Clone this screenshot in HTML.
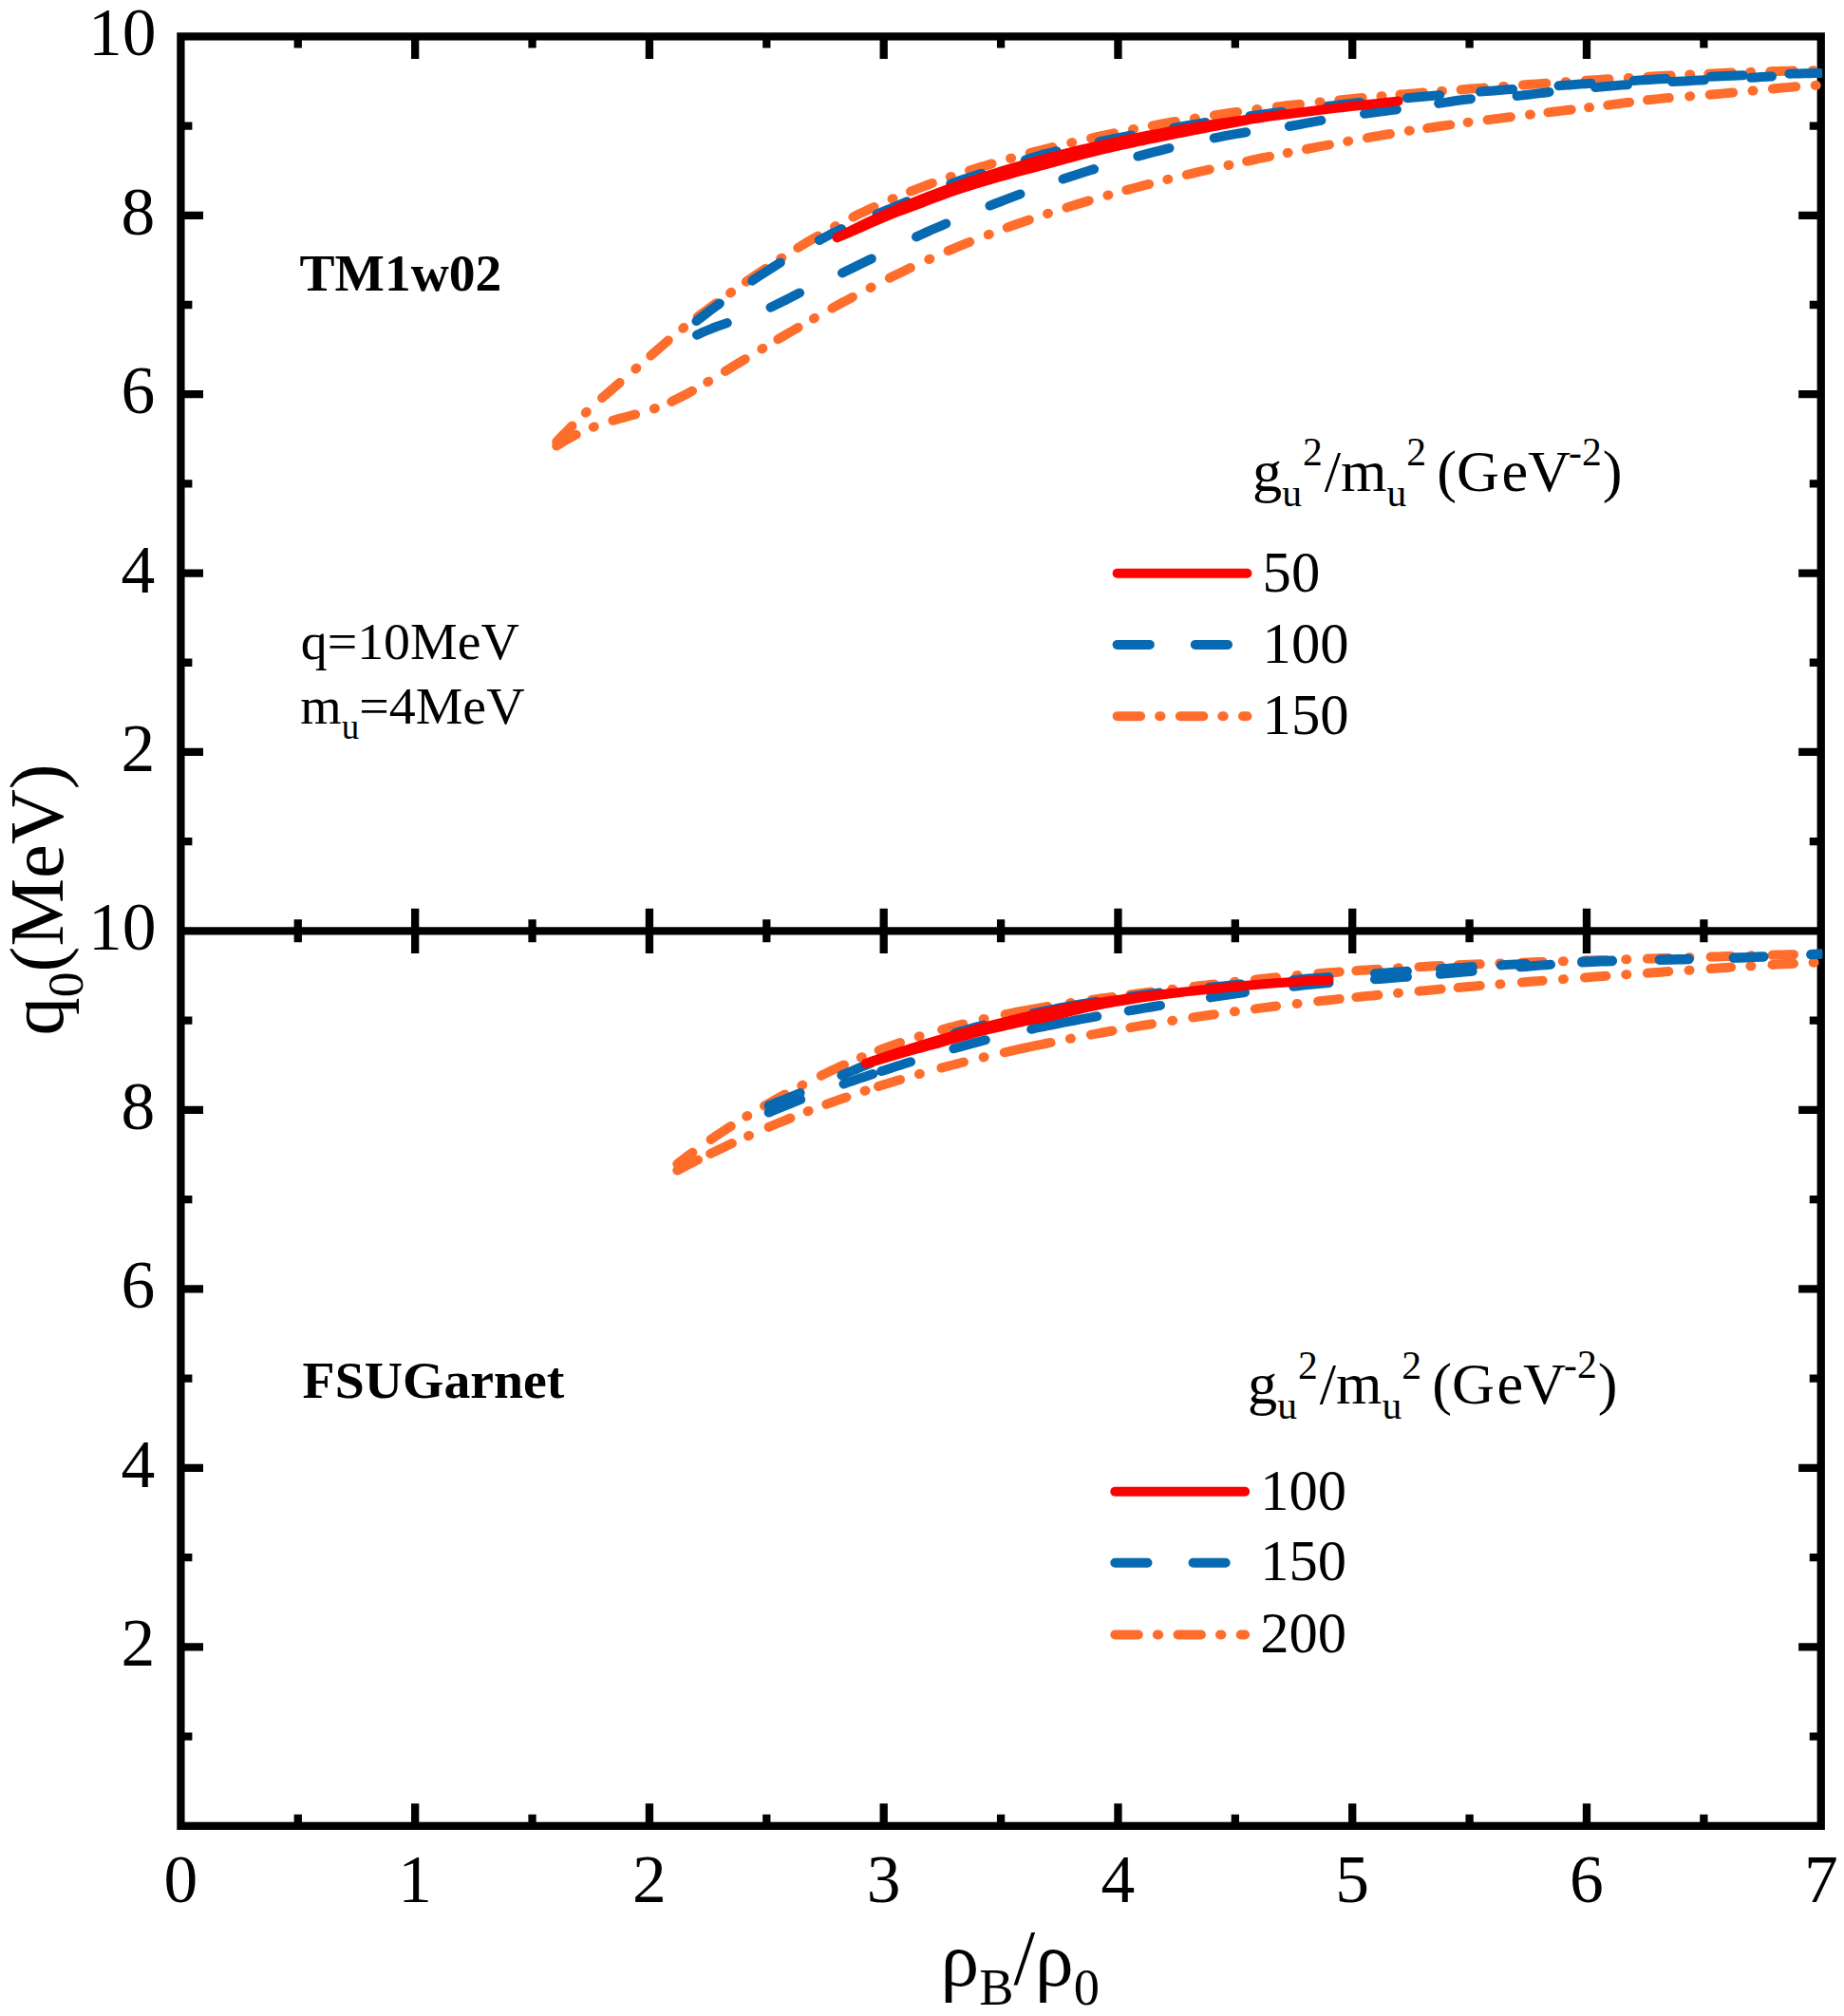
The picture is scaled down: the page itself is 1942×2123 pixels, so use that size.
<!DOCTYPE html>
<html><head><meta charset="utf-8"><title>q0 vs rhoB/rho0</title>
<style>html,body{margin:0;padding:0;background:#fff}svg{display:block}</style></head>
<body>
<svg width="1942" height="2123" viewBox="0 0 1942 2123">
<rect width="1942" height="2123" fill="#fff"/>
<g stroke="#000" stroke-width="8.3" fill="none" stroke-linecap="butt">
<rect x="190.4" y="38.4" width="1727.35" height="1884.4499999999998"/>
<line x1="190.4" y1="980.35" x2="1917.75" y2="980.35"/>
<path d="M313.78 38.4v12.0M313.78 968.35v24.0M313.78 1922.85v-12.0M437.16 38.4v23.6M437.16 956.75v47.2M437.16 1922.85v-23.6M560.55 38.4v12.0M560.55 968.35v24.0M560.55 1922.85v-12.0M683.93 38.4v23.6M683.93 956.75v47.2M683.93 1922.85v-23.6M807.31 38.4v12.0M807.31 968.35v24.0M807.31 1922.85v-12.0M930.69 38.4v23.6M930.69 956.75v47.2M930.69 1922.85v-23.6M1054.08 38.4v12.0M1054.08 968.35v24.0M1054.08 1922.85v-12.0M1177.46 38.4v23.6M1177.46 956.75v47.2M1177.46 1922.85v-23.6M1300.84 38.4v12.0M1300.84 968.35v24.0M1300.84 1922.85v-12.0M1424.22 38.4v23.6M1424.22 956.75v47.2M1424.22 1922.85v-23.6M1547.60 38.4v12.0M1547.60 968.35v24.0M1547.60 1922.85v-12.0M1670.99 38.4v23.6M1670.99 956.75v47.2M1670.99 1922.85v-23.6M1794.37 38.4v12.0M1794.37 968.35v24.0M1794.37 1922.85v-12.0M190.4 886.15h12.0M1917.75 886.15h-12.0M190.4 791.96h23.6M1917.75 791.96h-23.6M190.4 697.76h12.0M1917.75 697.76h-12.0M190.4 603.57h23.6M1917.75 603.57h-23.6M190.4 509.38h12.0M1917.75 509.38h-12.0M190.4 415.18h23.6M1917.75 415.18h-23.6M190.4 320.99h12.0M1917.75 320.99h-12.0M190.4 226.79h23.6M1917.75 226.79h-23.6M190.4 132.59h12.0M1917.75 132.59h-12.0M190.4 1828.60h12.0M1917.75 1828.60h-12.0M190.4 1734.35h23.6M1917.75 1734.35h-23.6M190.4 1640.10h12.0M1917.75 1640.10h-12.0M190.4 1545.85h23.6M1917.75 1545.85h-23.6M190.4 1451.60h12.0M1917.75 1451.60h-12.0M190.4 1357.35h23.6M1917.75 1357.35h-23.6M190.4 1263.10h12.0M1917.75 1263.10h-12.0M190.4 1168.85h23.6M1917.75 1168.85h-23.6M190.4 1074.60h12.0M1917.75 1074.60h-12.0"/>
</g>
<g font-family="'Liberation Serif', serif" font-size="71.5" fill="#000">
<text x="190.40" y="2003.2" text-anchor="middle">0</text>
<text x="437.16" y="2003.2" text-anchor="middle">1</text>
<text x="683.93" y="2003.2" text-anchor="middle">2</text>
<text x="930.69" y="2003.2" text-anchor="middle">3</text>
<text x="1177.46" y="2003.2" text-anchor="middle">4</text>
<text x="1424.22" y="2003.2" text-anchor="middle">5</text>
<text x="1670.99" y="2003.2" text-anchor="middle">6</text>
<text x="1917.75" y="2003.2" text-anchor="middle">7</text>
<text x="163.2" y="811.96" text-anchor="end">2</text>
<text x="163.2" y="623.57" text-anchor="end">4</text>
<text x="163.2" y="435.18" text-anchor="end">6</text>
<text x="163.2" y="246.79" text-anchor="end">8</text>
<text x="164.6" y="58.40" text-anchor="end">10</text>
<text x="163.2" y="1754.35" text-anchor="end">2</text>
<text x="163.2" y="1565.85" text-anchor="end">4</text>
<text x="163.2" y="1377.35" text-anchor="end">6</text>
<text x="163.2" y="1188.85" text-anchor="end">8</text>
<text x="164.6" y="1000.35" text-anchor="end">10</text>
</g>
<g font-family="'Liberation Serif', serif" font-size="80.5" fill="#000">
<text transform="translate(65.5 1090.5) rotate(-90)">q<tspan font-size="53.7" dy="21">0</tspan><tspan dy="-21">(MeV)</tspan></text>
<text x="990.5" y="2091" font-size="81.5">ρ<tspan font-size="54.4" dy="19.5">B</tspan><tspan dy="-21.7">/</tspan><tspan dy="2.2">ρ</tspan><tspan font-size="54.4" dy="19.5">0</tspan></text>
</g>
<g font-family="'Liberation Serif', serif" fill="#000">
<text x="315.6" y="306.3" font-size="55.5" font-weight="bold">TM1w02</text>
<text x="318.6" y="1471.6" font-size="55.8" font-weight="bold">FSUGarnet</text>
<text x="316.7" y="693.8" font-size="55.9">q=10MeV</text>
<text x="316.2" y="762.1" font-size="55.9">m<tspan font-size="37" dy="15.5">u</tspan><tspan dy="-15.5">=4MeV</tspan></text>
</g>
<g font-family="'Liberation Serif', serif" font-size="62.3" fill="#000">
<text x="1319.0" y="517.0">g<tspan font-size="41.6" dy="16">u</tspan><tspan font-size="41.6" dy="-42.6" dx="1">2</tspan><tspan dy="26.6" dx="2">/m</tspan><tspan font-size="41.6" dy="16">u</tspan><tspan font-size="41.6" dy="-42.6">2</tspan><tspan dy="26.6" dx="-4.5"> (G</tspan><tspan dx="2.5">eV</tspan><tspan font-size="41.6" dy="-26.8" dx="-2">-2</tspan><tspan dy="26.8" dx="1">)</tspan></text>
<text x="1329.6" y="622.9" font-size="60.6">50</text>
<text x="1329.6" y="697.8" font-size="60.6">100</text>
<text x="1329.6" y="772.6" font-size="60.6">150</text>
</g>
<g fill="none" stroke-width="10" stroke-linecap="round">
<path d="M1176.6 603.7H1313.3999999999999" stroke="#fd0000"/>
<path d="M1176.6 678.9H1313.3999999999999" stroke="#0769b1" stroke-dasharray="34.2 48"/>
<path d="M1176.6 754.2H1313.3999999999999" stroke="#ff6d2c" stroke-dasharray="24.5 20 1.4 20.3"/>
</g>
<g font-family="'Liberation Serif', serif" font-size="62.3" fill="#000">
<text x="1314.0" y="1478.1">g<tspan font-size="41.6" dy="16">u</tspan><tspan font-size="41.6" dy="-42.6" dx="1">2</tspan><tspan dy="26.6" dx="2">/m</tspan><tspan font-size="41.6" dy="16">u</tspan><tspan font-size="41.6" dy="-42.6">2</tspan><tspan dy="26.6" dx="-4.5"> (G</tspan><tspan dx="2.5">eV</tspan><tspan font-size="41.6" dy="-26.8" dx="-2">-2</tspan><tspan dy="26.8" dx="1">)</tspan></text>
<text x="1327.2" y="1589.5" font-size="60.6">100</text>
<text x="1327.2" y="1664.4" font-size="60.6">150</text>
<text x="1327.2" y="1740.2" font-size="60.6">200</text>
</g>
<g fill="none" stroke-width="10" stroke-linecap="round">
<path d="M1174.3 1570.8H1311.1" stroke="#fd0000"/>
<path d="M1174.3 1645.7H1311.1" stroke="#0769b1" stroke-dasharray="34.2 48"/>
<path d="M1174.3 1721.5H1311.1" stroke="#ff6d2c" stroke-dasharray="24.5 20 1.4 20.3"/>
</g>
<clipPath id="pc"><rect x="190.4" y="38.4" width="1728.85" height="1884.4499999999998"/></clipPath>
<g clip-path="url(#pc)">
<g fill="none" stroke-width="10.0" stroke-linecap="round" stroke-linejoin="round">
<path stroke="#ff6d2c" d="M616.8 434.7l1 -0.93M669.3 388.5l1 -0.87M719.2 345.8l1 -0.80M769.1 308.5l1 -0.71M822.2 272.3l1 -0.64M879.0 238.6l1 -0.54M939.5 209.6l1 -0.43M1000.8 186.3l1 -0.34M1064.1 166.8l1 -0.28M1128.2 150.3l1 -0.24M1193.0 136.2l1 -0.20M1257.9 124.6l1 -0.16M1323.2 115.2l1 -0.13M1389.6 107.5l1 -0.10M1454.5 101.3l1 -0.09M1517.9 96.0l1 -0.08M1582.8 91.0l1 -0.08M1648.5 86.3l1 -0.07M1714.8 82.0l1 -0.06M1779.2 78.6l1 -0.05M1843.1 75.9l1 -0.03M1908.9 74.2l1 -0.02M634.1 419.0L638.8 415.0L643.4 410.9L648.0 406.9L652.6 402.9M685.3 374.5L689.9 370.5L694.6 366.5L699.2 362.5L703.8 358.5M734.6 333.8L739.5 330.1L744.5 326.4L749.4 322.8L754.3 319.2M785.8 296.7L790.9 293.2L796.0 289.7L801.0 286.3L806.1 282.9M840.3 261.0L845.6 257.8L850.8 254.6L856.1 251.5L861.4 248.5M898.4 228.6L903.9 225.8L909.5 223.2L915.0 220.6L920.5 218.0M959.0 201.6L964.7 199.3L970.5 197.1L976.2 195.0L981.9 192.9M1021.1 179.6L1027.0 177.7L1032.8 175.9L1038.7 174.2L1044.5 172.4M1084.7 161.2L1090.6 159.6L1096.6 158.1L1102.5 156.6L1108.4 155.1M1149.1 145.5L1155.1 144.1L1161.0 142.8L1167.0 141.6L1173.0 140.3M1213.8 132.3L1218.7 131.4L1223.5 130.5L1228.3 129.6L1233.1 128.8L1238.0 128.0M1278.9 121.4L1283.7 120.6L1288.6 119.9L1293.4 119.2L1298.3 118.5L1303.1 117.9M1344.7 112.5L1349.6 111.9L1354.4 111.3L1359.3 110.8L1364.2 110.2L1369.0 109.7M1410.3 105.4L1415.2 104.9L1420.1 104.4L1425.0 104.0L1429.9 103.5L1434.7 103.1M1474.5 99.6L1479.4 99.2L1484.3 98.8L1489.1 98.4L1494.0 98.0L1498.9 97.6M1538.6 94.4L1543.5 94.0L1548.4 93.6L1553.3 93.2L1558.2 92.9L1563.1 92.5M1603.9 89.4L1608.8 89.1L1613.7 88.7L1618.6 88.4L1623.5 88.0L1628.4 87.7M1669.9 84.8L1674.8 84.5L1679.7 84.2L1684.6 83.9L1689.5 83.6L1694.4 83.3M1735.3 80.9L1740.2 80.6L1745.0 80.3L1749.9 80.1L1754.8 79.8L1759.7 79.6M1799.4 77.7L1804.3 77.4L1809.2 77.2L1814.1 77.0L1819.0 76.8L1823.9 76.6M1864.3 75.3L1869.1 75.1L1874.0 75.0L1878.9 74.8L1883.8 74.7L1888.7 74.6M586.2 465.2L591.6 459.5L597.1 453.9L602.5 448.4"/>
<path stroke="#ff6d2c" d="M624.8 449.8l1 -0.38M688.8 430.4l1 -0.36M745.2 402.3l1 -0.60M802.3 367.5l1 -0.60M856.9 335.5l1 -0.57M916.6 303.1l1 -0.52M978.3 273.1l1 -0.45M1040.8 247.1l1 -0.38M1103.0 225.0l1 -0.33M1166.4 205.7l1 -0.28M1229.3 189.0l1 -0.25M1293.5 174.0l1 -0.22M1355.7 161.0l1 -0.20M1419.2 148.8l1 -0.18M1483.8 137.8l1 -0.16M1545.6 128.9l1 -0.13M1611.0 120.7l1 -0.12M1673.1 113.2l1 -0.12M1779.2 101.4l1 -0.08M1845.5 95.6l1 -0.10M1911.7 89.9l1 -0.05M645.4 442.8L651.3 441.2L657.2 439.6L663.1 438.0L669.0 436.4M707.2 422.9L712.6 420.3L718.1 417.5L723.5 414.7L729.0 411.7M763.8 391.0L769.0 387.8L774.2 384.6L779.5 381.4L784.7 378.2M819.4 357.3L824.7 354.1L830.0 351.0L835.3 348.0L840.6 344.9M876.4 324.6L881.7 321.7L887.1 318.7L892.5 315.8L897.9 312.9M936.8 292.8L942.3 290.1L947.8 287.4L953.3 284.8L958.8 282.1M998.6 264.2L1004.2 261.8L1009.9 259.4L1015.5 257.1L1021.2 254.8M1060.7 239.6L1066.5 237.5L1072.3 235.5L1078.1 233.5L1083.8 231.5M1123.4 218.5L1129.3 216.7L1135.1 214.9L1141.0 213.1L1146.8 211.4M1186.4 200.1L1192.4 198.5L1198.3 197.0L1204.2 195.4L1210.1 193.9M1249.9 184.0L1255.9 182.6L1261.9 181.2L1267.8 179.8L1273.8 178.4M1313.1 169.8L1319.1 168.5L1325.1 167.2L1331.1 166.0L1337.1 164.8M1375.9 157.0L1380.7 156.0L1385.5 155.1L1390.3 154.2L1395.1 153.3L1400.0 152.4M1439.9 145.1L1444.7 144.3L1449.6 143.4L1454.4 142.6L1459.2 141.8L1464.0 141.0M1503.1 134.9L1507.9 134.2L1512.8 133.5L1517.6 132.8L1522.5 132.1L1527.3 131.4M1566.6 126.2L1571.5 125.6L1576.4 125.0L1581.2 124.4L1586.1 123.8L1590.9 123.2M1630.4 118.4L1635.3 117.8L1640.1 117.2L1645.0 116.6L1649.8 116.0L1654.7 115.5M1800.7 99.7L1805.5 99.3L1810.4 98.9L1815.3 98.4L1820.2 98.0L1825.1 97.5M1866.9 93.5L1871.8 93.0L1876.6 92.6L1881.5 92.1L1886.4 91.7L1891.3 91.3M586.2 469.6L591.3 466.3L596.5 463.2L601.6 460.4L606.7 457.7M1693.3 110.7L1699.0 109.9L1704.7 109.2L1710.4 108.4L1716.1 107.7M1735.0 105.3L1740.7 104.7L1746.4 104.1L1752.1 103.5L1757.8 103.1"/>
<path stroke="#0769b1" d="M733.5 338.1L738.4 334.3L743.3 330.5L748.1 326.8L753.0 323.2L757.9 319.6M792.2 295.7L798.1 291.7L804.0 287.8L810.0 284.0L815.9 280.3L821.8 276.6M862.8 253.0L868.7 249.9L874.5 246.8L880.4 243.9L886.3 241.1M923.5 225.5L928.8 223.3L934.0 221.2L939.3 219.0L944.5 216.8L949.8 214.5L955.0 212.2M1001.2 193.6L1006.6 191.7L1012.0 189.8L1017.4 188.0L1022.8 186.2L1028.2 184.4L1033.6 182.7M1079.8 168.4L1085.3 166.6L1090.8 165.0L1096.3 163.4L1101.8 161.9L1107.3 160.5L1112.7 159.2M1157.8 149.1L1163.4 148.0L1169.0 146.9L1174.6 145.7L1180.2 144.7L1185.8 143.6L1191.4 142.5M1236.0 134.6L1241.6 133.6L1247.2 132.7L1252.9 131.8L1258.5 130.8L1264.1 129.9L1269.7 129.0M1316.2 122.2L1321.9 121.4L1327.5 120.6L1333.2 119.9L1338.8 119.2L1344.5 118.4L1350.1 117.7M1398.5 111.7L1404.2 111.1L1409.8 110.4L1415.5 109.8L1421.2 109.1L1426.8 108.5L1432.5 107.9M1482.0 103.2L1487.7 102.7L1493.4 102.2L1499.0 101.7L1504.7 101.2L1510.4 100.7L1516.1 100.2M1559.0 96.6L1564.7 96.1L1570.4 95.7L1576.0 95.2L1581.7 94.8L1587.4 94.3L1593.1 93.9M1641.5 90.2L1647.2 89.8L1652.9 89.4L1658.6 89.0L1664.2 88.6L1669.9 88.2L1675.6 87.8M1720.6 85.0L1726.3 84.6L1732.0 84.3L1737.7 84.0L1743.4 83.6L1749.1 83.3L1754.7 83.0M1801.6 80.7L1807.3 80.4L1813.0 80.2L1818.7 79.9L1824.4 79.7L1830.1 79.5L1835.8 79.3M1884.3 77.7L1889.8 77.6L1895.4 77.4L1900.9 77.3L1906.4 77.2L1912.0 77.1L1917.5 77.0"/>
<path stroke="#0769b1" d="M734.0 352.7L739.3 350.2L744.6 348.0L749.9 345.8L755.2 343.8L760.5 342.0L765.8 340.1M811.5 323.7L816.6 321.3L821.7 318.8L826.8 316.2L831.9 313.6L837.0 311.0L842.1 308.4M887.0 287.4L892.1 285.0L897.3 282.5L902.4 280.0L907.5 277.5L912.6 275.0L917.8 272.5M965.0 249.4L970.2 247.0L975.4 244.6L980.6 242.3L985.9 240.0L991.1 237.8L996.3 235.5M1042.5 216.6L1047.8 214.5L1053.2 212.5L1058.5 210.4L1063.8 208.4L1069.1 206.4L1074.5 204.4M1119.5 188.6L1124.9 186.8L1130.4 185.0L1135.8 183.2L1141.2 181.5L1146.6 179.8L1152.1 178.1M1198.4 164.6L1203.9 163.1L1209.4 161.6L1215.0 160.2L1220.5 158.8L1226.0 157.4L1231.5 156.0M1278.7 145.4L1284.3 144.3L1289.9 143.2L1295.5 142.1L1301.1 141.1L1306.7 140.2L1312.3 139.3M1357.8 133.0L1363.4 132.0L1369.0 131.0L1374.6 129.9L1380.2 128.8L1385.8 127.8L1391.4 126.8M1437.0 119.8L1442.6 119.0L1448.3 118.3L1453.9 117.5L1459.6 116.8L1465.2 116.0L1470.9 115.2M1515.1 108.9L1520.7 108.1L1526.4 107.2L1532.0 106.3L1537.7 105.5L1543.3 104.8L1549.0 104.2M1597.5 101.0L1603.2 100.4L1608.8 99.8L1614.5 99.1L1620.1 98.4L1625.8 97.7L1631.5 97.0M1680.0 91.9L1685.7 91.5L1691.4 91.0L1697.0 90.5L1702.7 90.1L1708.4 89.6L1714.1 89.2M1761.0 86.1L1766.7 85.8L1772.4 85.5L1778.1 85.2L1783.8 84.8L1789.5 84.5L1795.1 84.2M1844.0 81.7L1849.5 81.4L1855.0 81.1L1860.5 80.8L1866.0 80.5"/>
<path stroke="#fd0000" d="M881.5 250.2L887.5 247.1L893.4 244.1L899.4 241.1L905.4 238.2L911.4 235.3L917.3 232.5L923.3 229.7L929.3 227.0L935.2 224.4L941.2 221.8L947.2 219.2L953.1 216.7L959.1 214.3L965.1 211.8L971.1 209.5L977.0 207.1L983.0 204.8L989.0 202.6L994.9 200.4L1000.9 198.2L1006.9 196.1L1012.9 194.0L1018.8 191.9L1024.8 189.9L1030.8 187.9L1036.7 186.0L1042.7 184.0L1048.7 182.2L1054.7 180.3L1060.6 178.5L1066.6 176.7L1072.6 175.0L1078.5 173.2L1084.5 171.6L1090.5 169.9L1096.4 168.3L1102.4 166.7L1108.4 165.1L1114.4 163.6L1120.3 162.1L1126.3 160.6L1132.3 159.1L1138.2 157.7L1144.2 156.3L1150.2 154.9L1156.2 153.6L1162.1 152.3L1168.1 151.0L1174.1 149.7L1180.0 148.4L1186.0 147.2L1192.0 146.0L1197.9 144.8L1203.9 143.7L1209.9 142.5L1215.9 141.4L1221.8 140.3L1227.8 139.3L1233.8 138.2L1239.7 137.2L1245.7 136.2L1251.7 135.2L1257.7 134.2L1263.6 133.2L1269.6 132.3L1275.6 131.3L1281.5 130.4L1287.5 129.5L1293.5 128.6L1299.4 127.8L1305.4 126.9L1311.4 126.1L1317.4 125.2L1323.3 124.4L1329.3 123.6L1335.3 122.8L1341.2 122.0L1347.2 121.2L1353.2 120.5L1359.2 119.7L1365.1 119.0L1371.1 118.2L1377.1 117.5L1383.0 116.8L1389.0 116.0L1395.0 115.3L1401.0 114.6L1406.9 113.9L1412.9 113.2L1418.9 112.5L1424.8 111.8L1430.8 111.2L1436.8 110.5L1442.7 109.8L1448.7 109.1L1454.7 108.4L1460.7 107.8L1466.6 107.1L1472.6 106.4M881.5 250.2L887.5 247.8L893.4 245.3L899.4 242.7L905.4 240.1L911.4 237.4L917.3 234.7L923.3 232.1L929.3 229.6L935.2 227.1L941.2 224.7L947.2 222.4L953.1 220.2L959.1 218.0L965.1 215.8L971.1 213.5L977.0 211.2L983.0 208.9L989.0 206.7L994.9 204.5L1000.9 202.4L1006.9 200.3L1012.9 198.3L1018.8 196.4L1024.8 194.5L1030.8 192.7L1036.7 191.0L1042.7 189.2L1048.7 187.5L1054.7 185.8L1060.6 184.1L1066.6 182.5L1072.6 180.8L1078.5 179.2L1084.5 177.6L1090.5 176.1L1096.4 174.5L1102.4 172.9L1108.4 171.2L1114.4 169.6L1120.3 168.0L1126.3 166.4L1132.3 164.7L1138.2 163.1L1144.2 161.6L1150.2 160.1L1156.2 158.6L1162.1 157.2L1168.1 155.8L1174.1 154.4L1180.0 153.1L1186.0 151.8L1192.0 150.5L1197.9 149.2L1203.9 148.0L1209.9 146.7L1215.9 145.5L1221.8 144.3L1227.8 143.1L1233.8 141.8L1239.7 140.6L1245.7 139.5L1251.7 138.3L1257.7 137.1L1263.6 136.0L1269.6 134.8L1275.6 133.7L1281.5 132.6L1287.5 131.4L1293.5 130.3L1299.4 129.1L1305.4 128.0L1311.4 126.8L1317.4 125.7L1323.3 124.7L1329.3 123.7L1335.3 122.8L1341.2 122.0L1347.2 121.2L1353.2 120.5L1359.2 119.7L1365.1 119.0L1371.1 118.2L1377.1 117.5L1383.0 116.8L1389.0 116.0L1395.0 115.3L1401.0 114.6L1406.9 113.9L1412.9 113.2L1418.9 112.5L1424.8 111.8L1430.8 111.2L1436.8 110.5L1442.7 109.8L1448.7 109.1L1454.7 108.4L1460.7 107.8L1466.6 107.1L1472.6 106.4"/>
</g>
<g fill="none" stroke-width="10.0" stroke-linecap="round" stroke-linejoin="round">
<path stroke="#ff6d2c" d="M786.3 1175.6l1 -0.61M844.3 1143.1l1 -0.52M906.8 1113.6l1 -0.42M967.6 1091.6l1 -0.31M1035.6 1073.2l1 -0.23M1126.9 1056.2l1 -0.15M1234.2 1041.8l1 -0.13M1299.9 1033.9l1 -0.11M1365.6 1027.2l1 -0.09M1472.0 1019.4l1 -0.06M1579.4 1014.5l1 -0.04M1645.9 1012.3l1 -0.03M1712.3 1010.3l1 -0.03M1778.5 1008.2l1 -0.03M1843.4 1006.4l1 -0.03M1909.6 1004.8l1 -0.02M864.8 1132.8L869.6 1130.4L874.4 1128.1L879.3 1125.8L884.1 1123.6L888.9 1121.4M925.6 1106.1L931.2 1104.0L936.8 1101.9L942.4 1099.9L948.1 1098.0M992.1 1084.3L997.6 1082.7L1003.2 1081.3L1008.7 1079.8L1014.2 1078.4M1058.6 1068.2L1064.2 1067.1L1069.8 1066.0L1075.3 1064.9L1080.9 1063.9L1086.5 1062.9L1092.1 1061.9L1097.7 1060.9L1103.3 1060.0M1149.7 1052.9L1155.2 1052.1L1160.6 1051.3L1166.1 1050.6L1171.5 1049.9M1190.5 1047.4L1195.9 1046.7L1201.3 1046.0L1206.8 1045.3L1212.2 1044.6M1257.2 1039.0L1262.6 1038.3L1268.0 1037.6L1273.5 1037.0L1278.9 1036.4M1321.8 1031.6L1327.4 1031.0L1332.9 1030.4L1338.5 1029.8L1344.1 1029.3M1388.1 1025.3L1393.8 1024.8L1399.4 1024.3L1405.1 1023.9L1410.8 1023.5M1428.3 1022.2L1434.1 1021.8L1439.8 1021.4L1445.6 1021.0L1451.4 1020.7M1494.5 1018.2L1500.3 1017.9L1506.0 1017.6L1511.8 1017.3L1517.6 1017.1M1535.7 1016.2L1541.5 1016.0L1547.2 1015.7L1553.0 1015.5L1558.8 1015.3M1602.8 1013.7L1608.3 1013.5L1613.7 1013.3L1619.2 1013.1L1624.7 1012.9M1669.0 1011.6L1674.6 1011.4L1680.2 1011.2L1685.8 1011.1L1691.4 1010.9M1734.8 1009.6L1740.4 1009.4L1746.1 1009.2L1751.7 1009.1L1757.3 1008.9M1801.6 1007.6L1807.0 1007.4L1812.3 1007.2L1817.7 1007.1L1823.1 1006.9M1866.5 1005.8L1872.1 1005.6L1877.7 1005.5L1883.4 1005.3L1889.0 1005.2M713.3 1225.7L718.6 1221.6L724.0 1217.6L729.3 1213.7M748.6 1200.0L753.9 1196.4L759.2 1192.9L764.4 1189.4L769.7 1186.0M805.0 1164.6L810.4 1161.5L815.9 1158.4L821.3 1155.4L826.7 1152.5"/>
<path stroke="#ff6d2c" d="M788.0 1196.3l1 -0.45M850.6 1170.3l1 -0.39M910.6 1148.8l1 -0.33M967.9 1131.1l1 -0.29M1035.6 1113.4l1 -0.24M1126.9 1093.8l1 -0.19M1234.2 1074.9l1 -0.16M1299.9 1065.3l1 -0.14M1365.6 1057.0l1 -0.12M1472.0 1045.8l1 -0.10M1579.4 1036.4l1 -0.08M1645.9 1031.2l1 -0.08M1712.3 1026.3l1 -0.07M1778.5 1021.7l1 -0.07M1843.4 1017.3l1 -0.06M1909.6 1013.7l1 -0.04M870.3 1162.9L875.6 1161.0L880.8 1159.1L886.1 1157.2L891.4 1155.4M925.0 1144.1L930.7 1142.3L936.5 1140.5L942.2 1138.7L948.0 1137.0M991.4 1124.6L997.3 1123.0L1003.2 1121.5L1009.1 1120.0L1014.9 1118.5M1057.8 1108.3L1063.2 1107.1L1068.6 1105.9L1074.0 1104.7L1079.4 1103.5L1084.8 1102.4L1090.3 1101.2L1095.7 1100.1L1101.1 1099.0L1106.5 1097.9M1148.9 1089.6L1154.6 1088.6L1160.2 1087.5L1165.9 1086.5L1171.6 1085.5M1190.4 1082.2L1196.1 1081.2L1201.7 1080.2L1207.4 1079.3L1213.1 1078.3M1256.2 1071.5L1261.9 1070.6L1267.6 1069.8L1273.3 1069.0L1278.9 1068.2M1321.8 1062.4L1327.4 1061.6L1332.9 1060.9L1338.5 1060.2L1344.1 1059.5M1388.1 1054.4L1393.8 1053.8L1399.4 1053.2L1405.1 1052.6L1410.8 1051.9M1428.3 1050.1L1434.1 1049.5L1439.8 1048.9L1445.6 1048.4L1451.4 1047.8M1494.5 1043.7L1500.3 1043.2L1506.0 1042.7L1511.8 1042.1L1517.6 1041.6M1535.7 1040.0L1541.5 1039.5L1547.2 1039.0L1553.0 1038.6L1558.8 1038.1M1602.8 1034.5L1608.3 1034.1L1613.7 1033.6L1619.2 1033.2L1624.7 1032.8M1669.0 1029.4L1674.6 1029.0L1680.2 1028.6L1685.8 1028.2L1691.4 1027.8M1734.8 1024.7L1740.4 1024.3L1746.0 1023.9L1751.7 1023.5L1757.3 1023.1M1801.6 1020.1L1807.0 1019.7L1812.3 1019.3L1817.7 1019.0L1823.1 1018.6M1866.5 1015.9L1872.1 1015.6L1877.7 1015.3L1883.4 1015.0L1889.0 1014.7M713.3 1232.5L718.7 1229.7L724.1 1226.9L729.6 1224.1L735.0 1221.4M748.1 1214.9L753.8 1212.2L759.5 1209.5L765.2 1206.8L770.9 1204.1M809.6 1186.9L815.3 1184.5L821.0 1182.2L826.7 1179.8L832.4 1177.5"/>
<path stroke="#0769b1" d="M809.6 1164.2L815.1 1162.1L820.6 1160.0L826.1 1157.8L831.6 1155.6L837.1 1153.3L842.6 1151.0M886.4 1132.4L891.6 1130.2L896.7 1128.0L901.9 1125.8L907.0 1123.6L912.2 1121.5L917.4 1119.3M1005.8 1087.9L1010.8 1086.4L1015.8 1085.0L1020.8 1083.5L1025.8 1082.2L1030.8 1080.8L1035.9 1079.5M1087.9 1067.1L1093.4 1065.9L1099.0 1064.8L1104.5 1063.7L1110.1 1062.6L1115.6 1061.5L1121.2 1060.5L1126.7 1059.5L1132.3 1058.5L1137.8 1057.5L1143.4 1056.6L1148.9 1055.7L1154.5 1054.8M1190.5 1049.4L1195.6 1048.7L1200.7 1048.1L1205.8 1047.4L1210.9 1046.7L1216.0 1046.1L1221.1 1045.5M1273.4 1039.7L1279.0 1039.2L1284.6 1038.7L1290.2 1038.1L1295.8 1037.6L1301.4 1037.1L1307.0 1036.6M1362.1 1031.9L1367.4 1031.5L1372.8 1031.1L1378.1 1030.6L1383.5 1030.2L1388.8 1029.8L1394.2 1029.4L1399.5 1029.0M1448.0 1025.3L1453.6 1024.8L1459.3 1024.4L1464.9 1024.0L1470.6 1023.6L1476.3 1023.2L1481.9 1022.8M1516.9 1020.3L1522.5 1020.0L1528.2 1019.6L1533.8 1019.2L1539.4 1018.9L1545.1 1018.5L1550.7 1018.1M1581.0 1016.4L1586.2 1016.1L1591.4 1015.8L1596.6 1015.5L1601.8 1015.2L1607.0 1015.0M1666.2 1012.5L1671.5 1012.3L1676.8 1012.2L1682.0 1012.0L1687.3 1011.9L1692.6 1011.7L1697.9 1011.6M1747.8 1010.5L1752.9 1010.4L1758.1 1010.3L1763.2 1010.2L1768.3 1010.1L1773.5 1010.0L1778.6 1009.8M1825.7 1008.5L1831.0 1008.4L1836.3 1008.2L1841.6 1008.0L1846.8 1007.8L1852.1 1007.6L1857.4 1007.4M1907.3 1005.0L1912.4 1004.7L1917.5 1004.4"/>
<path stroke="#0769b1" d="M809.6 1171.6L815.2 1169.2L820.8 1166.9L826.4 1164.6L832.0 1162.3L837.6 1160.1L843.2 1157.9M888.5 1141.4L893.7 1139.6L898.8 1137.9L903.9 1136.1L909.1 1134.4L914.2 1132.7L919.3 1131.0M928.3 1128.1L933.4 1126.4L938.5 1124.7L943.6 1123.1L948.8 1121.4L953.9 1119.8L959.0 1118.2M1004.4 1104.3L1010.0 1102.7L1015.5 1101.1L1021.1 1099.6L1026.6 1098.1L1032.2 1096.6L1037.8 1095.2M1086.2 1083.8L1091.9 1082.5L1097.7 1081.3L1103.5 1080.1L1109.2 1079.0L1115.0 1077.8L1120.7 1076.7L1126.5 1075.6L1132.2 1074.5L1138.0 1073.4L1143.8 1072.3L1149.5 1071.3L1155.3 1070.3M1188.7 1064.4L1194.3 1063.5L1199.8 1062.6L1205.3 1061.6L1210.9 1060.7L1216.4 1059.8L1222.0 1058.9M1274.9 1050.4L1280.1 1049.6L1285.3 1048.9L1290.4 1048.1L1295.6 1047.3L1300.7 1046.6L1305.9 1045.9L1311.0 1045.1M1362.1 1038.8L1367.4 1038.2L1372.8 1037.6L1378.1 1037.1L1383.5 1036.6L1388.8 1036.1L1394.2 1035.6L1399.5 1035.1M1448.0 1031.3L1453.6 1030.9L1459.3 1030.4L1465.0 1030.0L1470.6 1029.6L1476.3 1029.1L1481.9 1028.7M1516.9 1025.8L1522.5 1025.3L1528.2 1024.8L1533.8 1024.3L1539.4 1023.8L1545.1 1023.3L1550.7 1022.8M1601.0 1018.3L1606.3 1017.9L1611.7 1017.4L1617.0 1017.0L1622.3 1016.6L1627.7 1016.2L1633.0 1015.8M1666.2 1013.6L1671.5 1013.3L1676.8 1013.0L1682.0 1012.8L1687.3 1012.6L1692.6 1012.4L1697.9 1012.2M1747.8 1010.9L1752.9 1010.8L1758.1 1010.7L1763.2 1010.6L1768.3 1010.5L1773.5 1010.4L1778.6 1010.2M1825.7 1008.8L1831.0 1008.6L1836.3 1008.4L1841.6 1008.2L1846.8 1008.0L1852.1 1007.8L1857.4 1007.5M1907.3 1005.2L1912.4 1004.9L1917.5 1004.6"/>
<path stroke="#fd0000" d="M911.8 1119.9L917.7 1117.8L923.7 1115.8L929.6 1113.7L935.6 1111.7L941.5 1109.8L947.5 1107.8L953.4 1105.9L959.4 1104.0L965.3 1102.2L971.3 1100.3L977.2 1098.5L983.2 1096.7L989.1 1095.0L995.1 1093.2L1001.0 1091.5L1007.0 1089.8L1012.9 1088.1L1018.9 1086.5L1024.8 1084.8L1030.8 1083.2L1036.7 1081.6L1042.6 1080.0L1048.6 1078.5L1054.5 1077.0L1060.5 1075.5L1066.4 1074.0L1072.4 1072.6L1078.3 1071.2L1084.3 1069.8L1090.2 1068.4L1096.2 1067.1L1102.1 1065.8L1108.1 1064.6L1114.0 1063.4L1120.0 1062.2L1125.9 1061.1L1131.9 1060.0L1137.8 1059.0L1143.8 1058.0L1149.7 1057.0L1155.7 1056.1L1161.6 1055.1L1167.5 1054.3L1173.5 1053.4L1179.4 1052.6L1185.4 1051.8L1191.3 1051.0L1197.3 1050.2L1203.2 1049.5L1209.2 1048.8L1215.1 1048.1L1221.1 1047.4L1227.0 1046.7L1233.0 1046.0L1238.9 1045.4L1244.9 1044.7L1250.8 1044.1L1256.8 1043.5L1262.7 1042.8L1268.7 1042.2L1274.6 1041.6L1280.5 1041.0L1286.5 1040.4L1292.4 1039.8L1298.4 1039.2L1304.3 1038.7L1310.3 1038.1L1316.2 1037.6L1322.2 1037.1L1328.1 1036.6L1334.1 1036.1L1340.0 1035.6L1346.0 1035.1L1351.9 1034.7L1357.9 1034.3L1363.8 1033.9L1369.8 1033.5L1375.7 1033.1L1381.7 1032.8L1387.6 1032.5L1393.6 1032.2L1399.5 1031.9M911.8 1119.9L917.7 1118.3L923.7 1116.6L929.6 1114.9L935.6 1113.2L941.5 1111.4L947.5 1109.7L953.4 1108.0L959.4 1106.3L965.3 1104.7L971.3 1103.1L977.2 1101.5L983.2 1099.9L989.1 1098.3L995.1 1096.5L1001.0 1094.8L1007.0 1093.1L1012.9 1091.4L1018.9 1089.8L1024.8 1088.1L1030.8 1086.5L1036.7 1085.1L1042.6 1083.7L1048.6 1082.3L1054.5 1081.0L1060.5 1079.6L1066.4 1078.3L1072.4 1076.9L1078.3 1075.6L1084.3 1074.3L1090.2 1073.3L1096.2 1072.5L1102.1 1071.4L1108.1 1070.0L1114.0 1068.4L1120.0 1066.9L1125.9 1065.4L1131.9 1063.9L1137.8 1062.6L1143.8 1061.2L1149.7 1059.9L1155.7 1058.6L1161.6 1057.4L1167.5 1056.3L1173.5 1055.2L1179.4 1054.2L1185.4 1053.2L1191.3 1052.2L1197.3 1051.3L1203.2 1050.4L1209.2 1049.5L1215.1 1048.7L1221.1 1047.8L1227.0 1047.0L1233.0 1046.2L1238.9 1045.5L1244.9 1044.8L1250.8 1044.1L1256.8 1043.5L1262.7 1042.8L1268.7 1042.2L1274.6 1041.6L1280.5 1041.0L1286.5 1040.4L1292.4 1039.8L1298.4 1039.2L1304.3 1038.7L1310.3 1038.1L1316.2 1037.6L1322.2 1037.1L1328.1 1036.6L1334.1 1036.1L1340.0 1035.6L1346.0 1035.1L1351.9 1034.7L1357.9 1034.3L1363.8 1033.9L1369.8 1033.5L1375.7 1033.1L1381.7 1032.8L1387.6 1032.5L1393.6 1032.2L1399.5 1031.9"/>
</g>
</g>
</svg>
</body></html>
